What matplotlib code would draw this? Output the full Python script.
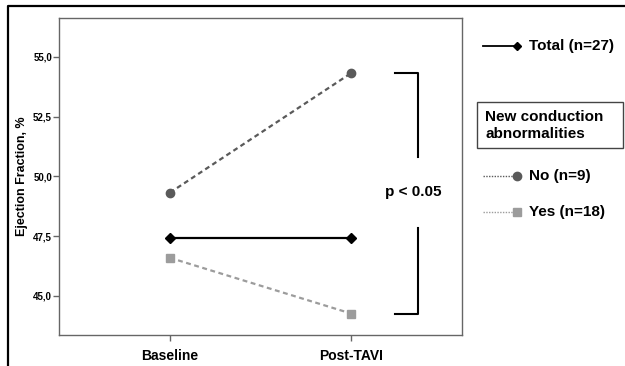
import matplotlib
matplotlib.use('Agg')
import matplotlib.pyplot as plt
from matplotlib.ticker import FuncFormatter

plt.rcParams['font.family'] = ['Liberation Sans', 'DejaVu Sans']
plt.rcParams['font.weight'] = 'bold'

timepoints = ['Baseline', 'Post-TAVI']
ef_total = [47.42, 47.42]
ef_no_cd = [49.32, 54.32]
ef_yes_cd = [46.59, 44.26]
yticks = [45.0, 47.5, 50.0, 52.5, 55.0]
p_label = 'p < 0.05'

dark_gray = '#5a5a5a'
light_gray = '#9c9c9c'

fig = plt.figure(figsize=(6.25, 3.66), dpi=100)
ax = fig.add_axes([0.0944, 0.0847, 0.6448, 0.8661])

x = list(range(len(timepoints)))
ax.plot(x, ef_no_cd, color=dark_gray, lw=1.6, ls=(0, (2.2, 1.6)),
        marker='o', ms=6, mfc=dark_gray, mec=dark_gray, zorder=3)
ax.plot(x, ef_yes_cd, color=light_gray, lw=1.6, ls=(0, (2.2, 1.6)),
        marker='s', ms=6, mfc=light_gray, mec=light_gray, zorder=3)
ax.plot(x, ef_total, color='black', lw=1.6, ls='-',
        marker='D', ms=5, mfc='black', mec='black', zorder=4)

ax.set_xlim(-0.613, 1.613)
ax.set_ylim(43.36, 56.63)
ax.set_xticks(x)
ax.set_xticklabels(timepoints, fontsize=10, fontweight='bold')
ax.set_yticks(yticks)
ax.yaxis.set_major_formatter(FuncFormatter(lambda v, _: f'{v:.1f}'.replace('.', ',')))
for lbl in ax.get_yticklabels():
    lbl.set_fontsize(7)
    lbl.set_fontweight('bold')
ax.tick_params(axis='both', direction='out', length=4, width=1, color='#666666', pad=1)
ax.tick_params(axis='x', pad=6)
for sp in ax.spines.values():
    sp.set_color('#666666')
    sp.set_linewidth(1)
ax.set_ylabel('Ejection Fraction, %', fontsize=9, fontweight='bold', labelpad=4)

# significance bracket spanning the two post-TAVI subgroup means
bx0, bx1 = 1.243, 1.37
ax.plot([bx0, bx1, bx1], [ef_no_cd[1], ef_no_cd[1], 50.82], color='black', lw=1.5, clip_on=False)
ax.plot([bx0, bx1, bx1], [ef_yes_cd[1], ef_yes_cd[1], 47.86], color='black', lw=1.5, clip_on=False)
ax.text(1.343, 49.36, p_label, fontsize=11, fontweight='bold', ha='center', va='center')

# overlay in pixel units for the frame and the legend
ov = fig.add_axes([0, 0, 1, 1], zorder=-1)
ov.set_xlim(0, 625)
ov.set_ylim(366, 0)
ov.axis('off')
ov.plot([8, 8, 625], [366, 6, 6], color='black', lw=1.6, solid_capstyle='butt')

ov.plot([483, 517], [46, 46], color='black', lw=1.3)
ov.plot([517], [46], marker='D', ms=4.5, color='black')
ov.text(529, 46, 'Total (n=27)', fontsize=11, fontweight='bold', va='center')

ov.add_patch(plt.Rectangle((477, 102), 146, 46, fill=False, ec='#444444', lw=1))
ov.text(485, 125.5, 'New conduction\nabnormalities', fontsize=11, fontweight='bold',
        va='center', linespacing=1.3)

ov.plot([483, 515], [176, 176], color=dark_gray, lw=1, ls=(0, (1, 1)))
ov.plot([517], [176], marker='o', ms=6, color=dark_gray)
ov.text(529, 176, 'No (n=9)', fontsize=11, fontweight='bold', va='center')

ov.plot([483, 515], [212, 212], color=light_gray, lw=1, ls=(0, (1, 1)))
ov.plot([517], [212], marker='s', ms=6, color=light_gray)
ov.text(529, 212, 'Yes (n=18)', fontsize=11, fontweight='bold', va='center')

fig.savefig('out.png', dpi=100)
